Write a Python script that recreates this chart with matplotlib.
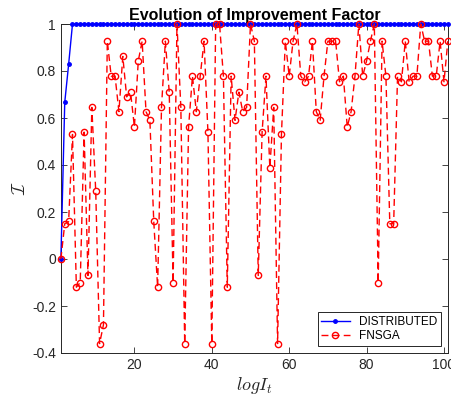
import numpy as np
import matplotlib
matplotlib.use("Agg")
import matplotlib.pyplot as plt

plt.rcParams['font.family'] = ['Liberation Sans', 'DejaVu Sans']
plt.rcParams['mathtext.fontset'] = 'cm'

# iteration index
iters = np.arange(1, 102)

# distributed approach: reaches 1 after three steps
distributed = [0.0, 0.667, 0.828] + [1.0] * 98

# FNSGA improvement factor
fnsga = [
    0.0, 0.15, 0.16, 0.53, -0.12, -0.10, 0.54, -0.07, 0.645, 0.29,
    -0.36, -0.28, 0.927, 0.778, 0.778, 0.627, 0.862, 0.69, 0.71, 0.562,
    0.843, 0.927, 0.627, 0.59, 0.16, -0.12, 0.645, 0.927, 0.71, -0.10,
    1.0, 0.645, -0.36, 0.562, 0.778, 0.627, 0.778, 0.927, 0.54, -0.36,
    1.0, 1.0, 0.778, -0.12, 0.778, 0.59, 0.71, 0.627, 0.645, 1.0,
    0.927, -0.07, 0.54, 0.778, 0.388, 0.645, -0.36, 0.53, 0.927, 0.778,
    0.927, 1.0, 0.778, 0.754, 0.778, 0.927, 0.627, 0.59, 0.778, 0.927,
    0.927, 0.927, 0.754, 0.778, 0.562, 0.627, 0.778, 1.0, 0.778, 0.843,
    0.927, 1.0, -0.10, 0.927, 0.778, 0.15, 0.15, 0.778, 0.754, 0.927,
    0.754, 0.778, 0.778, 1.0, 0.927, 0.927, 0.778, 0.778, 0.927, 0.754,
    0.927,
]

yticks = [-0.4, -0.2, 0, 0.2, 0.4, 0.6, 0.8, 1]
ytick_labels = ['-0.4', '-0.2', '0', '0.2', '0.4', '0.6', '0.8', '1']
xticks = [20, 40, 60, 80, 100]

fig = plt.figure(figsize=(4.51, 4.0), dpi=100)
ax = fig.add_axes([0.135, 0.1175, 0.858, 0.8225])

ax.plot(iters, distributed, '-', color='blue', marker='.', markersize=5,
        linewidth=1.0, label='DISTRIBUTED', zorder=3, clip_on=False)
ax.plot(iters, fnsga, '--', color='red', marker='o', markersize=4.5,
        markerfacecolor='none', markeredgewidth=1.0, linewidth=1.0,
        dashes=(5, 3), label='FNSGA', zorder=4, clip_on=False)

ax.set_xlim(1, 101)
ax.set_ylim(-0.4, 1)
ax.set_xticks(xticks)
ax.set_yticks(yticks)
ax.set_yticklabels(ytick_labels)

gray = '#262626'
ax.tick_params(direction='in', length=4, width=0.6, colors=gray,
               labelsize=10, top=True, right=True)
ax.tick_params(axis='y', labelright=False)
ax.tick_params(axis='x', labeltop=False)
for s in ax.spines.values():
    s.set_color(gray)
    s.set_linewidth(0.7)

ax.set_title('Evolution of Improvement Factor', fontsize=11.5,
             fontweight='bold', pad=3)
ax.set_xlabel(r'$log I_t$', fontsize=13, color=gray, labelpad=2)
ax.set_ylabel(r'$\mathcal{I}$', fontsize=13, color=gray, labelpad=2)

leg = ax.legend(loc='lower right', fontsize=8.5, fancybox=False,
                framealpha=1, edgecolor=gray, borderpad=0.3, numpoints=1,
                handlelength=2.4, labelspacing=0.2, borderaxespad=0.6)
leg.get_frame().set_linewidth(0.7)
leg.set_zorder(10)

fig.savefig('out.png', dpi=100)
